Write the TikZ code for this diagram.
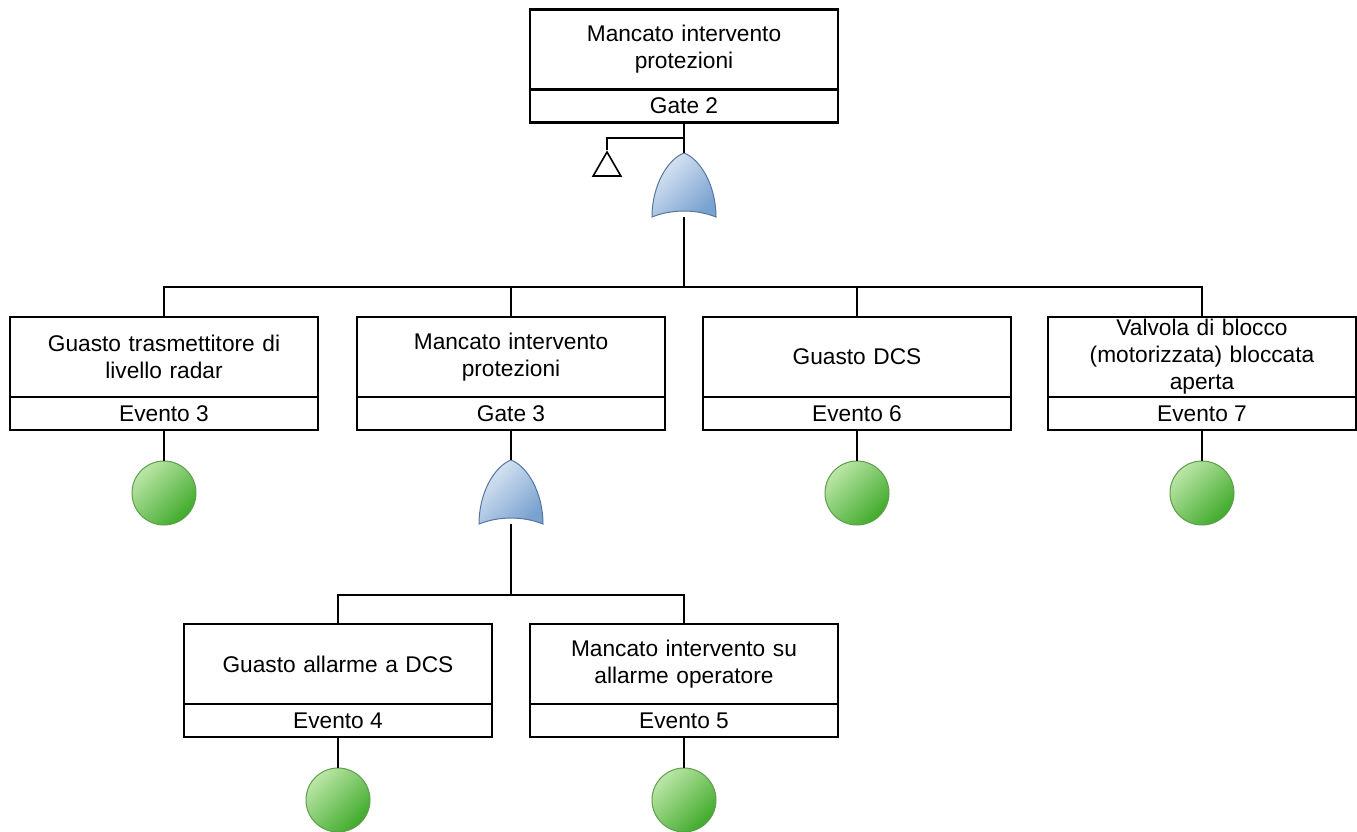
\documentclass[tikz,border=0pt]{standalone}
\usepackage{fontspec}
\setmainfont{Liberation Sans}
\usetikzlibrary{positioning,shapes.geometric}
\definecolor{evlight}{HTML}{BCE6A8}
\definecolor{evdark}{HTML}{3FAA2A}
\definecolor{evline}{HTML}{5E9E4C}
\definecolor{gtlight}{HTML}{DCE8F5}
\definecolor{gtdark}{HTML}{7AA2D0}
\definecolor{gtline}{HTML}{56769E}
\tikzset{
  desc/.style={draw,line width=2.2pt,minimum width=308pt,minimum height=80pt,text width=300pt,align=center,inner sep=0pt,outer sep=0pt,font=\fontsize{22.7}{27}\selectfont},
  tag/.style={draw,line width=2.2pt,minimum width=308pt,minimum height=33pt,inner sep=0pt,outer sep=0pt,font=\fontsize{22.7}{27}\selectfont},
  basic/.style={circle,draw=evline,line width=1pt,minimum size=64pt,inner sep=0pt,top color=evlight,bottom color=evdark,shading angle=45},
  gatebox/.style={minimum width=64pt,minimum height=64pt,inner sep=0pt,outer sep=0pt},
  transfer/.style={regular polygon,regular polygon sides=3,draw,line width=1.6pt,minimum size=32pt,inner sep=0pt},
  wire/.style={line width=1.6pt},
  orgate/.pic={
    \path[top color=gtlight,bottom color=gtdark,shading angle=45,draw=gtline,line width=1pt]
      (-32,32) .. controls (-32,0) and (-16,-26) .. (0,-32)
      .. controls (16,-26) and (32,0) .. (32,32)
      .. controls (12,24) and (-12,24) .. (-32,32) -- cycle;
  }
}
\begin{document}
\begin{tikzpicture}[x=1pt,y=-1pt]
    \useasboundingbox (0,0) rectangle (1357,831);
    \node[desc] (g2) at (684,49.5) {Mancato intervento\\protezioni};
    \node[tag,below=0pt of g2] (g2n) {Gate 2};
    \node[gatebox] (g2or) at (684,185) {};
    \pic at (g2or) {orgate};
    \coordinate (k2) at (684,138);
    \node[transfer] (tr2) at (607,168) {};
    \coordinate (b2) at (684,287);

    \node[desc] (e3) at (164,357) {Guasto trasmettitore di\\livello radar};
    \node[desc] (g3) at (511,357) {Mancato intervento\\protezioni};
    \node[desc] (e6) at (857,357) {Guasto DCS};
    \node[desc] (e7) at (1202,357) {Valvola di blocco\\(motorizzata) bloccata\\aperta};
    \node[tag,below=0pt of e3] (e3n) {Evento 3};
    \node[tag,below=0pt of g3] (g3n) {Gate 3};
    \node[tag,below=0pt of e6] (e6n) {Evento 6};
    \node[tag,below=0pt of e7] (e7n) {Evento 7};
    \node[gatebox] (g3or) at (511,492) {};
    \pic at (g3or) {orgate};
    \coordinate (b3) at (511,595);

    \node[desc] (e4) at (338,664) {Guasto allarme a DCS};
    \node[desc] (e5) at (684,664) {Mancato intervento su\\allarme operatore};
    \node[tag,below=0pt of e4] (e4n) {Evento 4};
    \node[tag,below=0pt of e5] (e5n) {Evento 5};

    \foreach \n in {e3,e6,e7} \node[basic] (\n c) at (\n n.south |- 0,493) {};
    \foreach \n in {e4,e5} \node[basic] (\n c) at (\n n.south |- 0,800) {};

    \draw[wire] (g2n.south) -- (g2or.north);
    \draw[wire] (k2) -| (tr2.corner 1);
    \draw[wire] (g2or.south) -- (b2);
    \foreach \n in {e3,g3,e6,e7} \draw[wire] (b2) -| (\n.north);
    \draw[wire] (g3n.south) -- (g3or.north);
    \draw[wire] (g3or.south) -- (b3);
    \foreach \n in {e4,e5} \draw[wire] (b3) -| (\n.north);
    \foreach \n in {e3,e6,e7,e4,e5} \draw[wire] (\n n.south) -- (\n c.north);
\end{tikzpicture}
\end{document}
